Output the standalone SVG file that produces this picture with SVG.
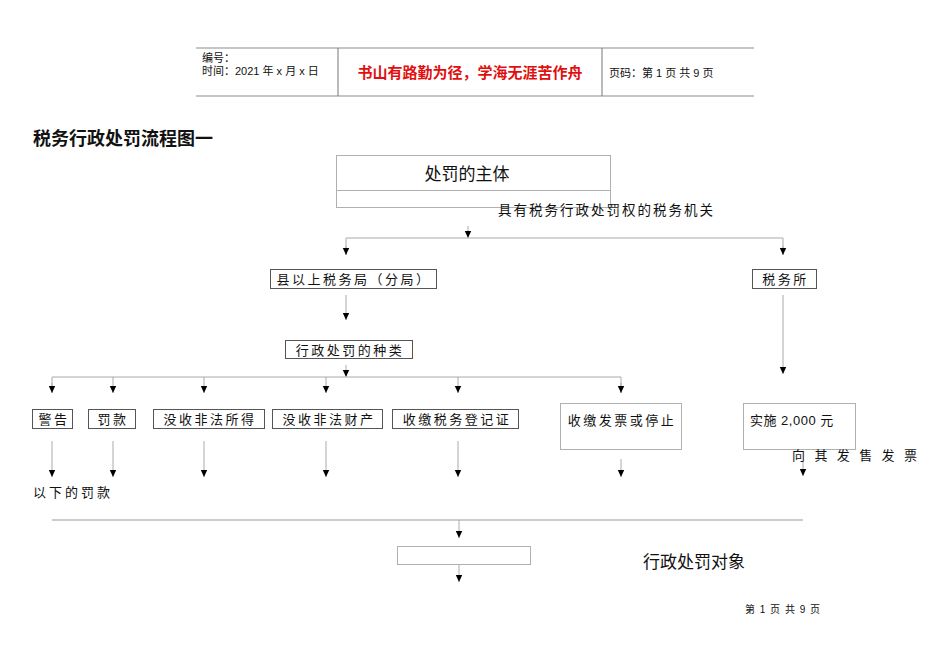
<svg xmlns="http://www.w3.org/2000/svg" width="950" height="672" viewBox="0 0 950 672">
<defs>
<style>
text{font-family:"Liberation Sans","Noto Sans CJK SC",sans-serif;fill:#111;}
.hdr{stroke:#8c8c8c;stroke-width:1.2;fill:none}
.ln{stroke:#aaaaaa;stroke-width:1;fill:none}
.bx{stroke:#555;stroke-width:1;fill:#fff}
.lbx{stroke:#b0b0b0;stroke-width:1;fill:#fff}
.t13{font-size:13px;letter-spacing:2.5px}
</style>
<marker id="ah" markerUnits="userSpaceOnUse" markerWidth="8" markerHeight="8" viewBox="0 -4 8 8" refX="7" refY="0" orient="auto">
<path d="M0,-3.2 L7,0 L0,3.2 z" fill="#000"/>
</marker>
</defs>
<rect width="950" height="672" fill="#fff"/>

<g id="header">
<line class="hdr" x1="196" y1="48" x2="754" y2="48"/>
<line class="hdr" x1="196" y1="96" x2="754" y2="96"/>
<line class="hdr" x1="338" y1="48" x2="338" y2="96"/>
<line class="hdr" x1="602" y1="48" x2="602" y2="96"/>
<text x="202" y="62" font-size="11">编号：</text>
<text x="202" y="75" font-size="11">时间：2021 年 x 月 x 日</text>
<text x="470" y="78" font-size="15" font-weight="bold" text-anchor="middle" style="fill:#e01010">书山有路勤为径，学海无涯苦作舟</text>
<text x="609" y="77" font-size="11">页码：第 1 页  共 9 页</text>
</g>

<text x="33" y="145" font-size="18" font-weight="bold">税务行政处罚流程图一</text>

<g id="connectors">
<line class="ln" x1="468" y1="226" x2="468" y2="238" marker-end="url(#ah)"/>
<polyline class="ln" points="346,255 346,238 783,238 783,255"/>
<line class="ln" x1="346" y1="246" x2="346" y2="255" marker-end="url(#ah)"/>
<line class="ln" x1="783" y1="246" x2="783" y2="255" marker-end="url(#ah)"/>
<line class="ln" x1="346" y1="295" x2="346" y2="320" marker-end="url(#ah)"/>
<line class="ln" x1="783" y1="295" x2="783" y2="374" marker-end="url(#ah)"/>
<line class="ln" x1="346" y1="365" x2="346" y2="377" marker-end="url(#ah)"/>
<polyline class="ln" points="52,393 52,377 621,377 621,393"/>
<line class="ln" x1="52" y1="383" x2="52" y2="393" marker-end="url(#ah)"/>
<line class="ln" x1="113" y1="377" x2="113" y2="393" marker-end="url(#ah)"/>
<line class="ln" x1="204" y1="377" x2="204" y2="393" marker-end="url(#ah)"/>
<line class="ln" x1="326" y1="377" x2="326" y2="393" marker-end="url(#ah)"/>
<line class="ln" x1="458" y1="377" x2="458" y2="393" marker-end="url(#ah)"/>
<line class="ln" x1="621" y1="383" x2="621" y2="393" marker-end="url(#ah)"/>
<line class="ln" x1="52" y1="441" x2="52" y2="477" marker-end="url(#ah)"/>
<line class="ln" x1="113" y1="441" x2="113" y2="477" marker-end="url(#ah)"/>
<line class="ln" x1="204" y1="441" x2="204" y2="477" marker-end="url(#ah)"/>
<line class="ln" x1="326" y1="441" x2="326" y2="477" marker-end="url(#ah)"/>
<line class="ln" x1="458" y1="441" x2="458" y2="477" marker-end="url(#ah)"/>
<line class="ln" x1="621" y1="459" x2="621" y2="477" marker-end="url(#ah)"/>
<line class="ln" x1="803" y1="462" x2="803" y2="476" marker-end="url(#ah)"/>
<line class="ln" x1="52" y1="520" x2="803" y2="520" style="stroke:#999;stroke-width:1.2"/>
<line class="ln" x1="459" y1="520" x2="459" y2="538" marker-end="url(#ah)"/>
<line class="ln" x1="459" y1="564" x2="459" y2="582" marker-end="url(#ah)"/>
</g>

<g id="subject">
<rect class="lbx" x="336.5" y="155.5" width="274" height="52"/>
<line class="lbx" x1="336.5" y1="190.5" x2="610.5" y2="190.5"/>
<text x="467" y="180" font-size="17" text-anchor="middle">处罚的主体</text>
</g>
<text x="498" y="215" font-size="13.5" letter-spacing="2">具有税务行政处罚权的税务机关</text>

<g id="county">
<rect class="bx" x="270.5" y="269.5" width="166" height="19"/>
<text class="t13" x="354" y="284" text-anchor="middle">县以上税务局（分局）</text>
</g>
<g id="station">
<rect class="bx" x="752.5" y="269.5" width="64" height="19"/>
<text class="t13" x="785.5" y="284" text-anchor="middle">税务所</text>
</g>
<g id="kinds">
<rect class="bx" x="285.5" y="340.5" width="127" height="18"/>
<text class="t13" x="350" y="355" text-anchor="middle">行政处罚的种类</text>
</g>

<g id="warn">
<rect class="bx" x="32.5" y="409.5" width="40" height="19"/>
<text class="t13" x="54" y="424" text-anchor="middle">警告</text>
</g>
<g id="fine">
<rect class="bx" x="88.5" y="409.5" width="47" height="19"/>
<text class="t13" x="113" y="424" text-anchor="middle">罚款</text>
</g>
<g id="confiscate-income">
<rect class="bx" x="153.5" y="409.5" width="111" height="19"/>
<text class="t13" x="210" y="424" text-anchor="middle">没收非法所得</text>
</g>
<g id="confiscate-property">
<rect class="bx" x="272.5" y="409.5" width="110" height="19"/>
<text class="t13" x="329" y="424" text-anchor="middle">没收非法财产</text>
</g>
<g id="revoke-cert">
<rect class="bx" x="392.5" y="409.5" width="126" height="19"/>
<text class="t13" x="457" y="424" text-anchor="middle">收缴税务登记证</text>
</g>
<g id="revoke-invoice">
<rect class="lbx" x="560.5" y="403.5" width="121" height="46"/>
<text class="t13" x="622" y="425" text-anchor="middle">收缴发票或停止</text>
</g>
<g id="fine-2000">
<rect class="lbx" x="743.5" y="403.5" width="112" height="46"/>
<text x="750" y="425" font-size="13" letter-spacing="0.5">实施 2,000 元</text>
</g>
<text x="792" y="460" font-size="13" letter-spacing="9.4">向其发售发票</text>
<text x="33" y="497" font-size="13" letter-spacing="3">以下的罚款</text>

<g id="target">
<rect class="lbx" x="397.5" y="546.5" width="133" height="18"/>
</g>
<text x="643" y="568" font-size="17">行政处罚对象</text>

<text x="745" y="613" font-size="10" letter-spacing="1">第 1 页 共 9 页</text>
</svg>
